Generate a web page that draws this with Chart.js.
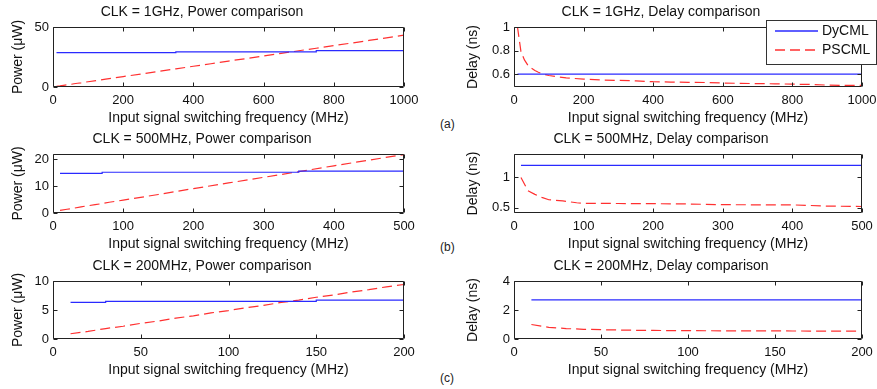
<!DOCTYPE html>
<html>
<head>
<meta charset="utf-8">
<script src="https://cdn.jsdelivr.net/npm/chart.js@4.4.1/dist/chart.umd.min.js"></script>
<style>
  html, body { margin: 0; padding: 0; background: #fff; overflow: hidden; width: 877px; height: 389px; }
  canvas { position: absolute; }
  .tag { position: absolute; left: 440px; font: 12px 'Liberation Sans', Arial, sans-serif; color: #222; }
</style>
</head>
<body>
<div class="tag" style="top:117px">(a)</div>
<div class="tag" style="top:240px">(b)</div>
<div class="tag" style="top:371px">(c)</div>
<script>
// ---- CLK = 1GHz ----
const freq1G = [10, 20, 30, 40, 50, 60, 70, 80, 90, 100, 150, 200, 250, 300, 350, 400, 450, 500, 550, 600, 650, 700, 750, 800, 850, 900, 950, 1000];
const pwrDyCML1G = [28.6, 28.6, 28.6, 28.6, 28.6, 28.6, 28.6, 28.6, 28.6, 28.6, 28.6, 28.6, 28.6, 28.6, 28.6, 29.2, 29.2, 29.2, 29.2, 29.2, 29.2, 29.2, 29.2, 30.3, 30.3, 30.3, 30.3, 30.3];
const pwrPSCML1G = [0.5, 0.9, 1.4, 1.8, 2.2, 2.7, 3.1, 3.5, 4.0, 4.4, 6.5, 8.7, 10.8, 13.0, 15.1, 17.3, 19.4, 21.6, 23.7, 25.9, 28.0, 30.2, 32.3, 34.5, 36.6, 38.8, 40.9, 43.2];
const dlyDyCML1G = [0.6, 0.6, 0.6, 0.6, 0.6, 0.6, 0.6, 0.6, 0.6, 0.6, 0.6, 0.6, 0.6, 0.6, 0.6, 0.6, 0.6, 0.6, 0.6, 0.6, 0.6, 0.6, 0.6, 0.6, 0.6, 0.6, 0.6, 0.6];
const dlyPSCML1G = [1.0, 0.79, 0.72, 0.675, 0.65, 0.63, 0.615, 0.605, 0.595, 0.588, 0.567, 0.557, 0.55, 0.546, 0.542, 0.535, 0.532, 0.53, 0.528, 0.524, 0.521, 0.519, 0.517, 0.514, 0.512, 0.506, 0.504, 0.503];

// ---- CLK = 500MHz ----
const freq500M = [10, 20, 30, 40, 50, 60, 70, 80, 90, 100, 150, 200, 250, 300, 350, 400, 450, 500];
const pwrDyCML500M = [14.8, 14.8, 14.8, 14.8, 14.8, 14.8, 14.8, 15.2, 15.2, 15.2, 15.2, 15.2, 15.2, 15.2, 15.2, 15.6, 15.6, 15.6];
const pwrPSCML500M = [1.0, 1.4, 1.8, 2.3, 2.7, 3.1, 3.5, 4.0, 4.4, 4.8, 6.9, 9.1, 11.2, 13.3, 15.4, 17.6, 19.7, 21.8];
const dlyDyCML500M = [1.2, 1.2, 1.2, 1.2, 1.2, 1.2, 1.2, 1.2, 1.2, 1.2, 1.2, 1.2, 1.2, 1.2, 1.2, 1.2, 1.2, 1.2];
const dlyPSCML500M = [1.0, 0.78, 0.72, 0.67, 0.63, 0.62, 0.61, 0.595, 0.58, 0.57, 0.568, 0.565, 0.56, 0.548, 0.546, 0.545, 0.525, 0.518];

// ---- CLK = 200MHz ----
const freq200M = [10, 20, 30, 40, 50, 60, 70, 80, 90, 100, 110, 120, 130, 140, 150, 160, 170, 180, 190, 200];
const pwrDyCML200M = [6.3, 6.3, 6.3, 6.5, 6.5, 6.5, 6.5, 6.5, 6.5, 6.5, 6.5, 6.5, 6.5, 6.5, 6.5, 6.7, 6.7, 6.7, 6.7, 6.7];
const pwrPSCML200M = [0.9, 1.3, 1.8, 2.2, 2.7, 3.1, 3.6, 4.0, 4.5, 4.9, 5.4, 5.8, 6.3, 6.7, 7.2, 7.6, 8.1, 8.5, 9.0, 9.4];
const dlyDyCML200M = [2.7, 2.7, 2.7, 2.7, 2.7, 2.7, 2.7, 2.7, 2.7, 2.7, 2.7, 2.7, 2.7, 2.7, 2.7, 2.7, 2.7, 2.7, 2.7, 2.7];
const dlyPSCML200M = [1.0, 0.8, 0.72, 0.67, 0.64, 0.62, 0.6, 0.59, 0.58, 0.575, 0.57, 0.565, 0.56, 0.558, 0.555, 0.553, 0.55, 0.548, 0.546, 0.545];

// tick labels
const xTicks1G = [0, 200, 400, 600, 800, 1000];
const xTicks500M = [0, 100, 200, 300, 400, 500];
const xTicks200M = [0, 50, 100, 150, 200];
const pwrTicks1G = [0, 50];
const pwrTicks500M = [0, 10, 20];
const pwrTicks200M = [0, 5, 10];
const dlyTicks1G = [0.6, 0.8, 1];
const dlyTicks500M = [0.5, 1];
const dlyTicks200M = [0, 2, 4];

const seriesNames = ['DyCML', 'PSCML'];
const xLabel = 'Input signal switching frequency (MHz)';

Chart.defaults.font.family = "'Liberation Sans', Arial, sans-serif";
Chart.defaults.color = '#111';

// layout of the 3x2 grid (page pixels)
const rows = [
    { canvasTop: 0,   top: 27,  bottom: 87,  titleMid: 12 },
    { canvasTop: 128, top: 154, bottom: 213, titleMid: 139.5 },
    { canvasTop: 254, top: 281, bottom: 339, titleMid: 266 }
];
const cols = [
    { canvasLeft: 0,   left: 53,  right: 404, yTitleMid: 18 },
    { canvasLeft: 460, left: 514, right: 862, yTitleMid: 473 }
];
const X_AXIS_H = 45;
const LH = 14 * 1.2;
const BLUE = '#2a2aff';
const RED = '#ff3030';

// MATLAB-like box with inward ticks
const frame = {
    id: 'frame',
    afterDatasetsDraw(chart) {
        const { ctx, chartArea: a, scales } = chart;
        const l = Math.round(a.left) + 0.5, r = Math.round(a.right) - 0.5;
        const t = Math.round(a.top) + 0.5, b = Math.round(a.bottom) - 0.5;
        ctx.save();
        ctx.strokeStyle = '#222';
        ctx.lineWidth = 1;
        ctx.beginPath();
        ctx.rect(l, t, r - l, b - t);
        scales.x.ticks.forEach(tk => {
            const px = Math.round(scales.x.getPixelForValue(tk.value)) + 0.5;
            ctx.moveTo(px, b); ctx.lineTo(px, b - 4);
            ctx.moveTo(px, t); ctx.lineTo(px, t + 4);
        });
        scales.y.ticks.forEach(tk => {
            const py = Math.round(scales.y.getPixelForValue(tk.value)) + 0.5;
            ctx.moveTo(l, py); ctx.lineTo(l + 4, py);
            ctx.moveTo(r, py); ctx.lineTo(r - 4, py);
        });
        ctx.stroke();
        ctx.restore();
    }
};

// boxed legend drawn over the top-right panel
const boxLegend = {
    id: 'boxLegend',
    afterDraw(chart, args, opts) {
        const { ctx } = chart;
        ctx.save();
        ctx.fillStyle = '#fff';
        ctx.fillRect(opts.x, opts.y, opts.w, opts.h);
        ctx.strokeStyle = '#333';
        ctx.lineWidth = 1;
        ctx.strokeRect(opts.x + 0.5, opts.y + 0.5, opts.w, opts.h);
        ctx.font = "14px 'Liberation Sans', Arial, sans-serif";
        ctx.textBaseline = 'middle';
        chart.data.datasets.forEach((ds, i) => {
            const yy = opts.y + 11 + i * 19;
            ctx.strokeStyle = ds.borderColor;
            ctx.lineWidth = 1.5;
            ctx.setLineDash(ds.borderDash || []);
            ctx.beginPath();
            ctx.moveTo(opts.x + 9, yy);
            ctx.lineTo(opts.x + 52, yy);
            ctx.stroke();
            ctx.setLineDash([]);
            ctx.fillStyle = '#111';
            ctx.fillText(ds.label, opts.x + 56, yy);
        });
        ctx.restore();
    }
};

const panels = [
    { row: 0, col: 0, title: 'CLK = 1GHz, Power comparison', yTitle: 'Power (\u03bcW)', x: freq1G, dy: pwrDyCML1G, ps: pwrPSCML1G, xMax: 1000, xTicks: xTicks1G, yMin: 0, yMax: 50, yTicks: pwrTicks1G },
    { row: 0, col: 1, title: 'CLK = 1GHz, Delay comparison', yTitle: 'Delay (ns)', x: freq1G, dy: dlyDyCML1G, ps: dlyPSCML1G, xMax: 1000, xTicks: xTicks1G, yMin: 0.49, yMax: 1, yTicks: dlyTicks1G, legend: true },
    { row: 1, col: 0, title: 'CLK = 500MHz, Power comparison', yTitle: 'Power (\u03bcW)', x: freq500M, dy: pwrDyCML500M, ps: pwrPSCML500M, xMax: 500, xTicks: xTicks500M, yMin: 0, yMax: 22, yTicks: pwrTicks500M },
    { row: 1, col: 1, title: 'CLK = 500MHz, Delay comparison', yTitle: 'Delay (ns)', x: freq500M, dy: dlyDyCML500M, ps: dlyPSCML500M, xMax: 500, xTicks: xTicks500M, yMin: 0.41, yMax: 1.39, yTicks: dlyTicks500M },
    { row: 2, col: 0, title: 'CLK = 200MHz, Power comparison', yTitle: 'Power (\u03bcW)', x: freq200M, dy: pwrDyCML200M, ps: pwrPSCML200M, xMax: 200, xTicks: xTicks200M, yMin: 0, yMax: 10, yTicks: pwrTicks200M },
    { row: 2, col: 1, title: 'CLK = 200MHz, Delay comparison', yTitle: 'Delay (ns)', x: freq200M, dy: dlyDyCML200M, ps: dlyPSCML200M, xMax: 200, xTicks: xTicks200M, yMin: 0, yMax: 4, yTicks: dlyTicks200M }
];

panels.forEach(p => {
    const r = rows[p.row], c = cols[p.col];
    const mid = (c.left + c.right) / 2;
    const cw = Math.round(2 * (mid - c.canvasLeft));
    const ch = r.bottom + X_AXIS_H - r.canvasTop;
    const yW = c.left - c.canvasLeft;
    const padR = cw - (c.right - c.canvasLeft);
    const tTop = r.titleMid - LH / 2 - r.canvasTop;
    const tBot = r.top - r.canvasTop - tTop - LH;

    const cv = document.createElement('canvas');
    cv.width = cw;
    cv.height = ch;
    cv.style.left = c.canvasLeft + 'px';
    cv.style.top = r.canvasTop + 'px';
    document.body.appendChild(cv);

    const chartPlugins = [frame];
    if (p.legend) chartPlugins.push(boxLegend);

    new Chart(cv, {
        type: 'line',
        data: {
            datasets: [
                {
                    label: seriesNames[0],
                    data: p.x.map((f, i) => ({ x: f, y: p.dy[i] })),
                    borderColor: BLUE,
                    borderWidth: 1.2,
                    pointRadius: 0,
                    stepped: 'after',
                    fill: false
                },
                {
                    label: seriesNames[1],
                    data: p.x.map((f, i) => ({ x: f, y: p.ps[i] })),
                    borderColor: RED,
                    borderWidth: 1.2,
                    borderDash: [10, 5],
                    pointRadius: 0,
                    tension: 0,
                    fill: false
                }
            ]
        },
        options: {
            responsive: false,
            animation: false,
            devicePixelRatio: 1,
            layout: { padding: { left: 0, right: padR, top: 0, bottom: 0 } },
            plugins: {
                legend: { display: false },
                tooltip: { enabled: false },
                title: {
                    display: true,
                    text: p.title,
                    color: '#111',
                    font: { size: 14, weight: 'normal' },
                    padding: { top: tTop, bottom: tBot }
                },
                boxLegend: { x: 766 - c.canvasLeft, y: 20, w: 110, h: 44 }
            },
            scales: {
                x: {
                    type: 'linear',
                    min: 0,
                    max: p.xMax,
                    grid: { display: false, drawTicks: false, tickLength: 0 },
                    border: { display: false },
                    ticks: { padding: 6, color: '#111', font: { size: 13 }, maxRotation: 0, autoSkip: false, callback: v => String(v) },
                    afterBuildTicks: s => { s.ticks = p.xTicks.map(v => ({ value: v })); },
                    afterFit: s => { s.height = X_AXIS_H; },
                    title: { display: true, text: xLabel, color: '#111', font: { size: 14 }, padding: { top: 0, bottom: X_AXIS_H - 31 - LH / 2 } }
                },
                y: {
                    type: 'linear',
                    min: p.yMin,
                    max: p.yMax,
                    grid: { display: false, drawTicks: false, tickLength: 0 },
                    border: { display: false },
                    ticks: { padding: 4, color: '#111', font: { size: 13 }, autoSkip: false, callback: v => String(v) },
                    afterBuildTicks: s => { s.ticks = p.yTicks.map(v => ({ value: v })); },
                    afterFit: s => { s.width = yW; },
                    title: { display: true, text: p.yTitle, color: '#111', font: { size: 14 }, padding: { top: c.yTitleMid - c.canvasLeft - LH / 2, bottom: 0 } }
                }
            }
        },
        plugins: chartPlugins
    });
});
</script>
</body>
</html>
